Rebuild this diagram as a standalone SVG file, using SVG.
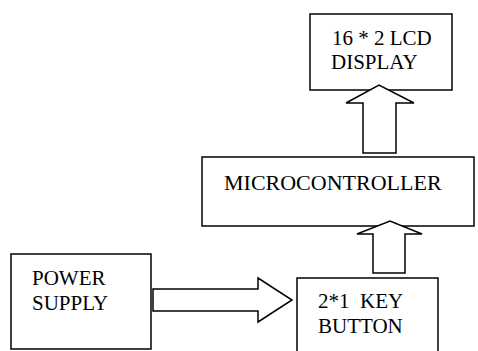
<svg xmlns="http://www.w3.org/2000/svg" width="478" height="351" viewBox="0 0 478 351">
<style>
.box{fill:#fff;stroke:#000;stroke-width:1.5}
.arr{fill:#fff;stroke:#000;stroke-width:1.5;stroke-linejoin:miter}
text{font-family:"Liberation Serif","Times New Roman",serif;font-size:21px;fill:#000;white-space:pre}
</style>
<rect width="478" height="351" fill="#fff"/>
<g id="lcd"><rect class="box" x="310" y="14" width="142" height="76"/><text x="332" y="45">16 * 2 LCD</text><text x="331" y="69">DISPLAY</text></g>
<g id="micro"><rect class="box" x="202" y="157" width="272" height="69"/><text x="224" y="190" style="font-size:22px">MICROCONTROLLER</text></g>
<g id="power"><rect class="box" x="11" y="254" width="140" height="95"/><text x="32" y="285">POWER</text><text x="32" y="310">SUPPLY</text></g>
<g id="key"><rect class="box" x="297" y="278" width="141" height="80"/><text x="318" y="308" xml:space="preserve">2*1  KEY</text><text x="318" y="333">BUTTON</text></g>
<g id="connectors">
<polygon class="arr" points="363,153 363,103 346,103 379,85 414,103 396,103 396,153"/>
<polygon class="arr" points="373,273 373,234 357,234 390,221 422,234 405,234 405,273"/>
<polygon class="arr" points="153,289 258,289 258,278 292,300 258,322 258,311 153,311"/>
</g>
</svg>
